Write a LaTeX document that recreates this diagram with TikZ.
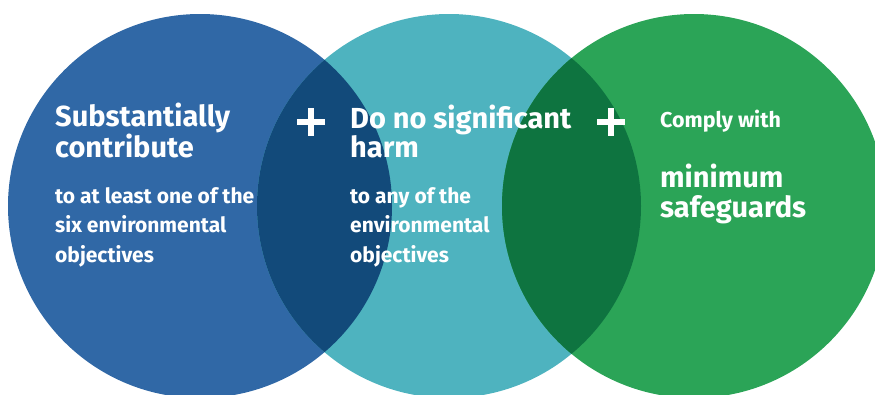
\documentclass[tikz,border=0pt]{standalone}
\usepackage{fontspec}
\setsansfont{Fira Sans}
\usetikzlibrary{positioning,calc}
\definecolor{eublue}{RGB}{48,104,166}
\definecolor{euteal}{RGB}{78,179,191}
\definecolor{eugreen}{RGB}{43,164,87}
\definecolor{darkblue}{RGB}{18,74,122}
\definecolor{darkgreen}{RGB}{14,116,64}
\tikzset{
    % Large white headline
    headline/.style={
        text=white,
        anchor=base west,
        align=left,
        inner sep=0pt,
        font=\sffamily\bfseries\fontsize{29}{29}\selectfont
    },
    % Smaller white sub text
    subline/.style={
        text=white,
        anchor=base west,
        align=left,
        inner sep=0pt,
        font=\sffamily\bfseries\fontsize{21}{29.5}\selectfont
    },
    % Plus sign between circles
    plussign/.style={
        white,
        line width=6.5pt
    }
}

\begin{document}
\begin{tikzpicture}[x=1pt,y=-1pt]

\useasboundingbox (0,0) rectangle (875,394);

% ==================== CIRCLES ====================
\coordinate (cblue) at (200,206);
\coordinate (cteal) at (449,206);
\coordinate (cgreen) at (694,206);

\fill[eublue] (cblue) circle (192);
\fill[euteal] (cteal) circle (192);
\fill[eugreen] (cgreen) circle (192);

% Overlaps
\begin{scope}
    \clip (cblue) circle (192);
    \fill[darkblue] (cteal) circle (192);
\end{scope}
\begin{scope}
    \clip (cteal) circle (192);
    \fill[darkgreen] (cgreen) circle (192);
\end{scope}

% ==================== LEFT: CONTRIBUTE ====================
% (base anchor sits on the last line)
\node[headline] (contribute) at (55,157) {Substantially\\contribute};
\node[subline] (contribsub) at (55,262) {to at least one of the\\six environmental\\objectives};

% ==================== MIDDLE: NO HARM ====================
\node[headline] (noharm) at (350,157) {Do no significant\\harm};
\node[subline] (noharmsub) at (350,262) {to any of the\\environmental\\objectives};

% ==================== RIGHT: SAFEGUARDS ====================
\node[subline, font=\sffamily\bfseries\fontsize{21.5}{29}\selectfont] (comply) at (660,127) {Comply with};
\node[headline, font=\sffamily\bfseries\fontsize{29}{30}\selectfont] (safeguards) at (660,217) {minimum\\safeguards};

% ==================== PLUS SIGNS ====================
\coordinate (plusA) at (311,122);
\coordinate (plusB) at (611,122);
\foreach \p in {plusA,plusB} {
    \draw[plussign] ($(\p)+(-14,0)$) -- ($(\p)+(14,0)$);
    \draw[plussign] ($(\p)+(0,-14)$) -- ($(\p)+(0,14)$);
}

\end{tikzpicture}
\end{document}
